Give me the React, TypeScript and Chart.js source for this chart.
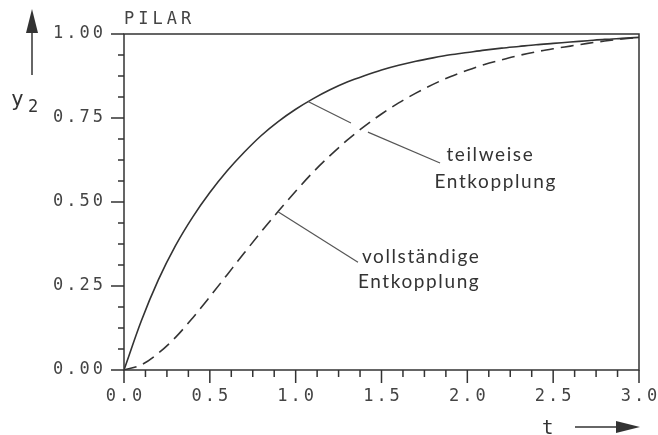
import React, { useEffect, useRef } from "react";
import { Chart, registerables } from "chart.js";
Chart.register(...registerables);

// time axis values (t)
const tValues = [
  0, 0.1, 0.2, 0.3, 0.4, 0.5, 0.6, 0.7, 0.8, 0.9, 1.0, 1.1, 1.2, 1.3, 1.4, 1.5,
  1.6, 1.7, 1.8, 1.9, 2.0, 2.1, 2.2, 2.3, 2.4, 2.5, 2.6, 2.7, 2.8, 2.9, 3.0,
];
// y2 – teilweise Entkopplung (solid)
const partialDecoupling = [
  0, 0.145, 0.268, 0.37, 0.455, 0.528, 0.592, 0.648, 0.698, 0.74, 0.776, 0.807,
  0.834, 0.857, 0.876, 0.893, 0.907, 0.919, 0.929, 0.938, 0.945, 0.952, 0.958,
  0.963, 0.968, 0.972, 0.976, 0.98, 0.984, 0.987, 0.99,
];
// y2 – vollständige Entkopplung (dashed)
const fullDecoupling = [
  0, 0.015, 0.05, 0.097, 0.155, 0.218, 0.283, 0.348, 0.412, 0.473, 0.532, 0.588,
  0.638, 0.684, 0.725, 0.762, 0.795, 0.824, 0.85, 0.873, 0.892, 0.909, 0.923,
  0.936, 0.947, 0.956, 0.964, 0.972, 0.979, 0.985, 0.99,
];

const xMajorTicks = [0, 0.5, 1.0, 1.5, 2.0, 2.5, 3.0];
const xTickLabels = ["0.0", "0.5", "1.0", "1.5", "2.0", "2.5", "3.0"];
const yMajorTicks = [0, 0.25, 0.5, 0.75, 1.0];
const yTickLabels = ["0.00", "0.25", "0.50", "0.75", "1.00"];
const minorPerMajor = 4;

const plotTitle = "PILAR";
const yAxisName = "y";
const yAxisSub = "2";
const xAxisName = "t";

// annotation leaders and labels (data coordinates)
const partialLeader1 = [[1.072, 0.799], [1.322, 0.735]];
const partialLeader2 = [[1.421, 0.708], [1.841, 0.616]];
const partialText = ["teilweise", "Entkopplung"];
const partialTextPos = [[1.878, 0.64], [1.809, 0.56]];
const fullLeader = [[0.897, 0.471], [1.363, 0.321]];
const fullText = ["vollständige", "Entkopplung"];
const fullTextPos = [[1.386, 0.336], [1.363, 0.262]];

const INK = "#333333";
const MONO = '"DejaVu Sans Mono", monospace';

const decorPlugin = {
  id: "decor",
  afterDatasetsDraw(chart: any) {
    const { ctx, chartArea: a, scales } = chart;
    const xs = scales.x;
    const ys = scales.y;
    const X = (v: number) => xs.getPixelForValue(v);
    const Y = (v: number) => ys.getPixelForValue(v);
    ctx.save();
    ctx.strokeStyle = INK;
    ctx.fillStyle = INK;
    ctx.lineWidth = 1.5;
    ctx.lineCap = "butt";

    // frame
    ctx.beginPath();
    ctx.rect(a.left, a.top, a.right - a.left, a.bottom - a.top);
    ctx.stroke();

    // y ticks
    ctx.beginPath();
    for (let i = 0; i < yMajorTicks.length; i++) {
      const py = Y(yMajorTicks[i]);
      ctx.moveTo(a.left - 13, py);
      ctx.lineTo(a.left, py);
      if (i < yMajorTicks.length - 1) {
        const step = (yMajorTicks[i + 1] - yMajorTicks[i]) / minorPerMajor;
        for (let k = 1; k < minorPerMajor; k++) {
          const pm = Y(yMajorTicks[i] + k * step);
          ctx.moveTo(a.left - 6, pm);
          ctx.lineTo(a.left, pm);
        }
      }
    }
    // x ticks
    for (let i = 0; i < xMajorTicks.length; i++) {
      const px = X(xMajorTicks[i]);
      ctx.moveTo(px, a.bottom);
      ctx.lineTo(px, a.bottom + 13);
      if (i < xMajorTicks.length - 1) {
        const step = (xMajorTicks[i + 1] - xMajorTicks[i]) / minorPerMajor;
        for (let k = 1; k < minorPerMajor; k++) {
          const pm = X(xMajorTicks[i] + k * step);
          ctx.moveTo(pm, a.bottom);
          ctx.lineTo(pm, a.bottom + 7);
        }
      }
    }
    ctx.stroke();

    // tick labels
    ctx.fillStyle = "#444444";
    ctx.font = "17px " + MONO;
    (ctx as any).letterSpacing = "3px";
    ctx.textBaseline = "middle";
    ctx.textAlign = "right";
    yMajorTicks.forEach((v, i) => {
      ctx.fillText(yTickLabels[i], a.left - 18, Y(v));
    });
    ctx.textAlign = "center";
    xMajorTicks.forEach((v, i) => {
      ctx.fillText(xTickLabels[i], X(v) + 1.5, a.bottom + 27);
    });

    // title
    (ctx as any).letterSpacing = "4px";
    ctx.textAlign = "left";
    ctx.fillText(plotTitle, a.left, a.top - 14);

    // axis names
    ctx.fillStyle = INK;
    (ctx as any).letterSpacing = "0px";
    ctx.textBaseline = "alphabetic";
    ctx.font = "21px " + MONO;
    ctx.fillText(yAxisName, 11, 106);
    ctx.font = "17px " + MONO;
    ctx.fillText(yAxisSub, 28, 112);
    ctx.font = "19px " + MONO;
    ctx.fillText(xAxisName, 542, 434);

    // y arrow
    ctx.beginPath();
    ctx.moveTo(32, 75);
    ctx.lineTo(32, 28);
    ctx.stroke();
    ctx.beginPath();
    ctx.moveTo(32, 9);
    ctx.lineTo(38, 33);
    ctx.lineTo(26, 33);
    ctx.closePath();
    ctx.fill();
    // x arrow
    ctx.beginPath();
    ctx.moveTo(575, 427);
    ctx.lineTo(622, 427);
    ctx.stroke();
    ctx.beginPath();
    ctx.moveTo(640, 427);
    ctx.lineTo(616, 421);
    ctx.lineTo(616, 433);
    ctx.closePath();
    ctx.fill();

    // annotation leaders
    ctx.lineWidth = 1.2;
    ctx.strokeStyle = "#555555";
    [partialLeader1, partialLeader2, fullLeader].forEach((seg) => {
      ctx.beginPath();
      ctx.moveTo(X(seg[0][0]), Y(seg[0][1]));
      ctx.lineTo(X(seg[1][0]), Y(seg[1][1]));
      ctx.stroke();
    });

    // annotation text
    ctx.font = '19px Lato, "Noto Sans", sans-serif';
    (ctx as any).letterSpacing = "1.6px";
    ctx.textAlign = "left";
    ctx.textBaseline = "middle";
    partialText.forEach((s, i) => {
      ctx.fillText(s, X(partialTextPos[i][0]), Y(partialTextPos[i][1]));
    });
    fullText.forEach((s, i) => {
      ctx.fillText(s, X(fullTextPos[i][0]), Y(fullTextPos[i][1]));
    });

    ctx.restore();
  },
};

export default function App() {
  const ref = useRef<HTMLCanvasElement | null>(null);
  useEffect(() => {
    if (!ref.current) return;
    const chart = new Chart(ref.current, {
      type: "line",
      data: {
        datasets: [
          {
            label: "teilweise Entkopplung",
            data: tValues.map((t, i) => ({ x: t, y: partialDecoupling[i] })),
            borderColor: INK,
            borderWidth: 1.6,
            pointRadius: 0,
            cubicInterpolationMode: "monotone",
            fill: false,
          },
          {
            label: "vollständige Entkopplung",
            data: tValues.map((t, i) => ({ x: t, y: fullDecoupling[i] })),
            borderColor: INK,
            borderWidth: 1.6,
            borderDash: [13, 7],
            pointRadius: 0,
            cubicInterpolationMode: "monotone",
            fill: false,
          },
        ],
      },
      options: {
        responsive: false,
        animation: false,
        devicePixelRatio: 1,
        layout: { padding: { left: 124, right: 19, top: 34, bottom: 65 } },
        plugins: { legend: { display: false }, tooltip: { enabled: false } },
        scales: {
          x: { type: "linear", min: 0, max: 3, display: false },
          y: { type: "linear", min: 0, max: 1, display: false },
        },
      },
      plugins: [decorPlugin],
    } as any);
    return () => chart.destroy();
  }, []);
  return (
    <div
      style={{
        position: "fixed",
        left: 0,
        top: 0,
        width: 658,
        height: 435,
        background: "#ffffff",
      }}
    >
      <canvas ref={ref} width={658} height={435} />
    </div>
  );
}
